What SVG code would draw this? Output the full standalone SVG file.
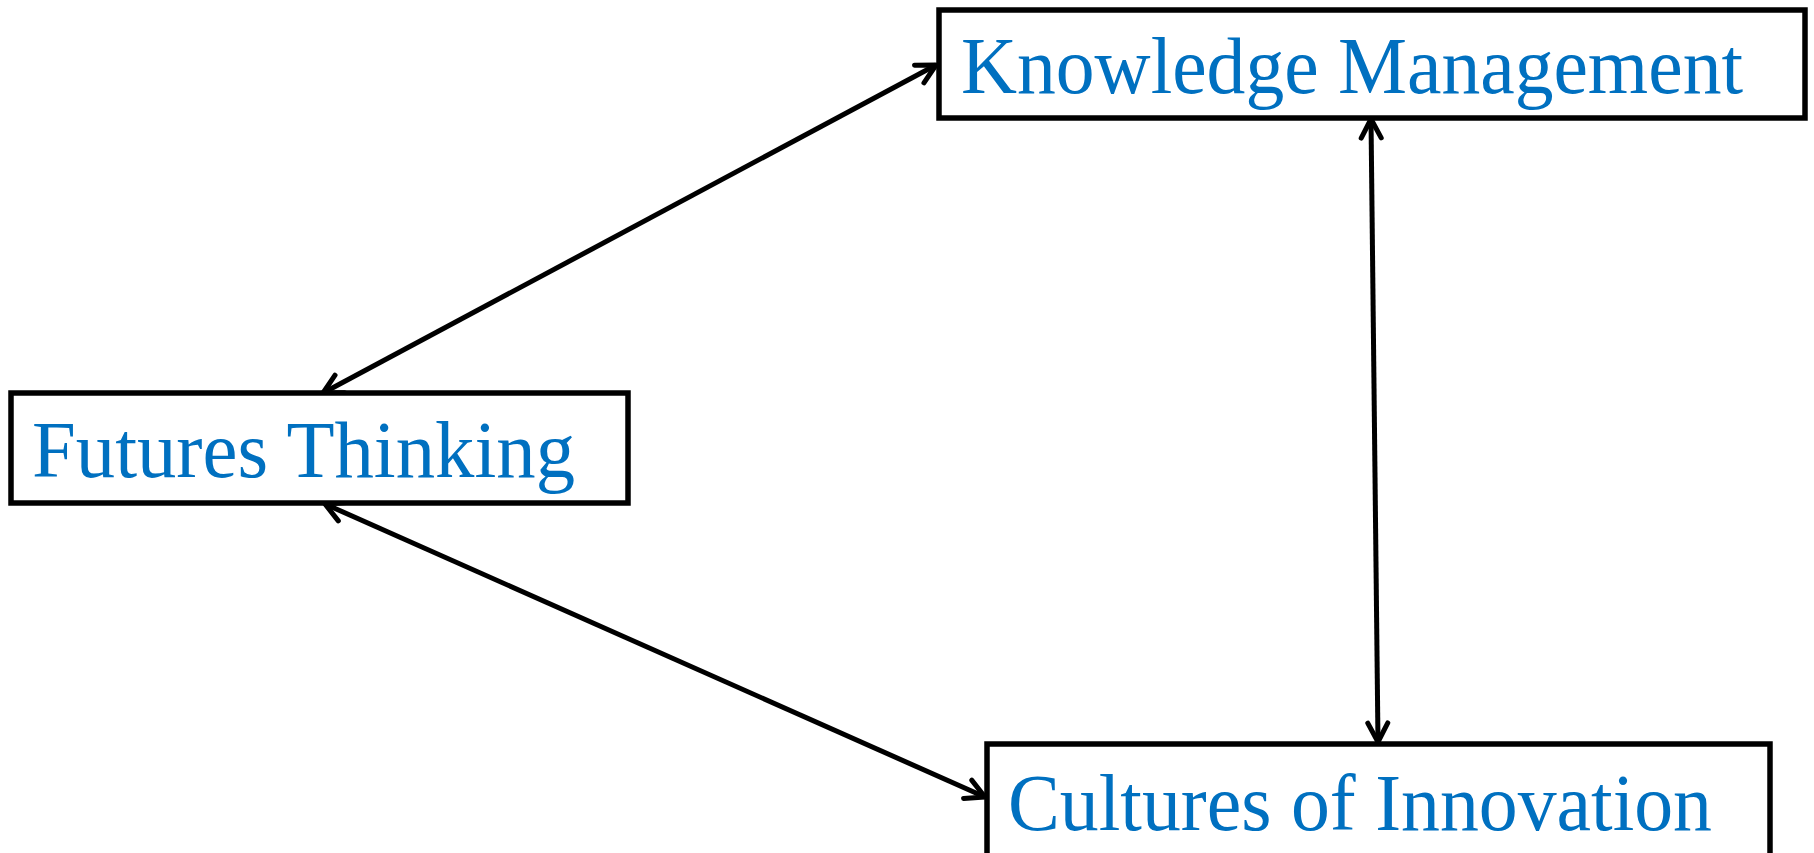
<svg xmlns="http://www.w3.org/2000/svg" width="1814" height="853" viewBox="0 0 1814 853">
<style>
.box{fill:#fff;stroke:#000;stroke-width:5.5}
.lbl{font-family:"Liberation Serif","DejaVu Serif",serif;font-size:81px;fill:#0070C0}
.conn{stroke:#000;stroke-width:5;fill:none;marker-start:url(#ah);marker-end:url(#ah)}
</style>
<defs>
<marker id="ah" viewBox="-26 -16 30 32" refX="0" refY="0" markerWidth="30" markerHeight="32" orient="auto-start-reverse" markerUnits="userSpaceOnUse">
<path d="M-19,-10 L0,0 L-19,10" fill="none" stroke="#000" stroke-width="5" stroke-linecap="round" stroke-linejoin="round"/>
</marker>
</defs>
<rect width="1814" height="853" fill="#fff"/>
<g id="connectors">
<line class="conn" x1="323" y1="393" x2="936" y2="65"/>
<line class="conn" x1="1371" y1="119" x2="1378" y2="742"/>
<line class="conn" x1="325" y1="504" x2="985" y2="797"/>
</g>
<g id="knowledge-management">
<rect class="box" x="939" y="10" width="866" height="108"/>
<text class="lbl" x="961" y="93" textLength="782" lengthAdjust="spacingAndGlyphs">Knowledge Management</text>
</g>
<g id="futures-thinking">
<rect class="box" x="11" y="393" width="617" height="110"/>
<text class="lbl" x="32" y="477" textLength="543" lengthAdjust="spacingAndGlyphs">Futures Thinking</text>
</g>
<g id="cultures-of-innovation">
<rect class="box" x="987" y="744" width="783" height="120"/>
<text class="lbl" x="1008" y="830" textLength="704" lengthAdjust="spacingAndGlyphs">Cultures of Innovation</text>
</g>
</svg>
